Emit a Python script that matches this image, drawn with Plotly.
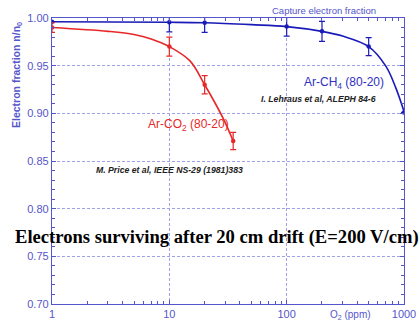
import plotly.graph_objects as go

# Measured points (O2 concentration in ppm, surviving electron fraction)
ch4_ppm = [1, 10, 20, 100, 200, 500, 1000]
ch4_frac = [0.996, 0.9955, 0.995, 0.991, 0.986, 0.970, 0.901]
ch4_err = [0.0, 0.010, 0.010, 0.010, 0.0105, 0.0095, 0.0]

co2_ppm = [1, 10, 20, 35]
co2_frac = [0.990, 0.970, 0.930, 0.871]
co2_err = [0.005, 0.010, 0.0095, 0.009]

# Fitted curves
ch4_fit_ppm = [1, 10, 20, 50, 100, 200, 300, 500, 700, 850, 1000]
ch4_fit_frac = [0.996, 0.9955, 0.995, 0.993, 0.991, 0.986, 0.981, 0.970, 0.9495, 0.927, 0.902]
co2_fit_ppm = [1, 3, 5, 7, 10, 15, 20, 25, 30, 35]
co2_fit_frac = [0.990, 0.986, 0.9827, 0.978, 0.970, 0.955, 0.930, 0.909, 0.890, 0.871]

x_ticks = [1, 10, 100, 1000]
y_ticks = [0.70, 0.75, 0.80, 0.85, 0.90, 0.95, 1.00]

BLUE = "#1a1ab8"
RED = "#e82828"
AXIS = "#5555cc"
GRID = "#a0a0e8"
SANS = "Arial, Liberation Sans"

fig = go.Figure()
fig.add_trace(go.Scatter(x=ch4_fit_ppm, y=ch4_fit_frac, mode="lines",
                         line=dict(color=BLUE, width=1.6, shape="spline"),
                         hoverinfo="skip"))
fig.add_trace(go.Scatter(x=co2_fit_ppm, y=co2_fit_frac, mode="lines",
                         line=dict(color=RED, width=1.6, shape="spline"),
                         hoverinfo="skip"))
fig.add_trace(go.Scatter(x=ch4_ppm, y=ch4_frac, mode="markers",
                         marker=dict(color=BLUE, size=4.5),
                         error_y=dict(type="data", array=ch4_err, color=BLUE,
                                      thickness=1.2, width=3)))
fig.add_trace(go.Scatter(x=co2_ppm, y=co2_frac, mode="markers",
                         marker=dict(color=RED, size=4.5),
                         error_y=dict(type="data", array=co2_err, color=RED,
                                      thickness=1.2, width=3)))

axis_common = dict(showline=True, linecolor=AXIS, linewidth=1.3, mirror="ticks",
                   ticks="inside", tickcolor=AXIS, ticklen=4, automargin=False,
                   showgrid=True, gridcolor=GRID, griddash="3px,2px", gridwidth=1,
                   zeroline=False,
                   tickfont=dict(family=SANS, size=11, color=AXIS))

fig.update_xaxes(type="log", range=[0, 3], tickvals=x_ticks,
                 ticktext=[str(v) for v in x_ticks],
                 minor=dict(ticks="inside", ticklen=3, tickcolor=AXIS, showgrid=False,
                            tickvals=[a * 10 ** d for d in range(3) for a in range(2, 10)]),
                 **axis_common)
fig.update_yaxes(range=[0.70, 1.00], tickvals=y_ticks,
                 ticktext=[f"{v:.2f}" for v in y_ticks],
                 minor=dict(ticks="inside", ticklen=3, tickcolor=AXIS, showgrid=False, dtick=0.01),
                 **axis_common)

fig.update_layout(
    width=420, height=324,
    margin=dict(l=52, r=16, t=18, b=20),
    paper_bgcolor="white", plot_bgcolor="white",
    showlegend=False,
    annotations=[
        dict(xref="paper", yref="paper", x=0.773, y=1.0, xanchor="center",
             yanchor="bottom", yshift=0,
             text="Capture electron fraction", showarrow=False,
             font=dict(family=SANS, size=9.5, color=AXIS)),
        dict(xref="paper", yref="paper", x=-0.10, y=0.80, xanchor="center",
             yanchor="middle", textangle=-90,
             text="<b>Electron fraction n/n<sub>0</sub></b>", showarrow=False,
             font=dict(family=SANS, size=10.5, color=AXIS)),
        dict(xref="paper", yref="paper", x=0.847, y=0, xanchor="center",
             yanchor="top", yshift=-3,
             text="O<sub>2</sub> (ppm)", showarrow=False,
             font=dict(family=SANS, size=10, color=AXIS)),
        dict(xref="x", yref="y", x=2.85, y=0.932, xanchor="right", yanchor="middle",
             text="Ar-CH<sub>4</sub> (80-20)", showarrow=False,
             font=dict(family=SANS, size=12, color="#3030c0")),
        dict(xref="x", yref="y", x=2.78, y=0.9155, xanchor="right", yanchor="middle",
             text="<b><i>I. Lehraus et al, ALEPH 84-6</i></b>", showarrow=False,
             font=dict(family=SANS, size=8.7, color="#222222")),
        dict(xref="x", yref="y", x=0.80, y=0.888, xanchor="left", yanchor="middle",
             text="Ar-CO<sub>2</sub> (80-20)", showarrow=False,
             font=dict(family=SANS, size=12, color=RED)),
        dict(xref="x", yref="y", x=0.36, y=0.841, xanchor="left", yanchor="middle",
             text="<b><i>M. Price et al, IEEE NS-29 (1981)383</i></b>", showarrow=False,
             font=dict(family=SANS, size=8.7, color="#222222")),
        dict(xref="paper", yref="paper", x=1.047, y=0.234, xanchor="right",
             yanchor="middle",
             text="<b>Electrons surviving after 20 cm drift (E=200 V/cm)</b>",
             showarrow=False,
             font=dict(family="Liberation Serif, Times New Roman", size=18.6, color="black")),
    ],
)

fig.write_html("out.html")
